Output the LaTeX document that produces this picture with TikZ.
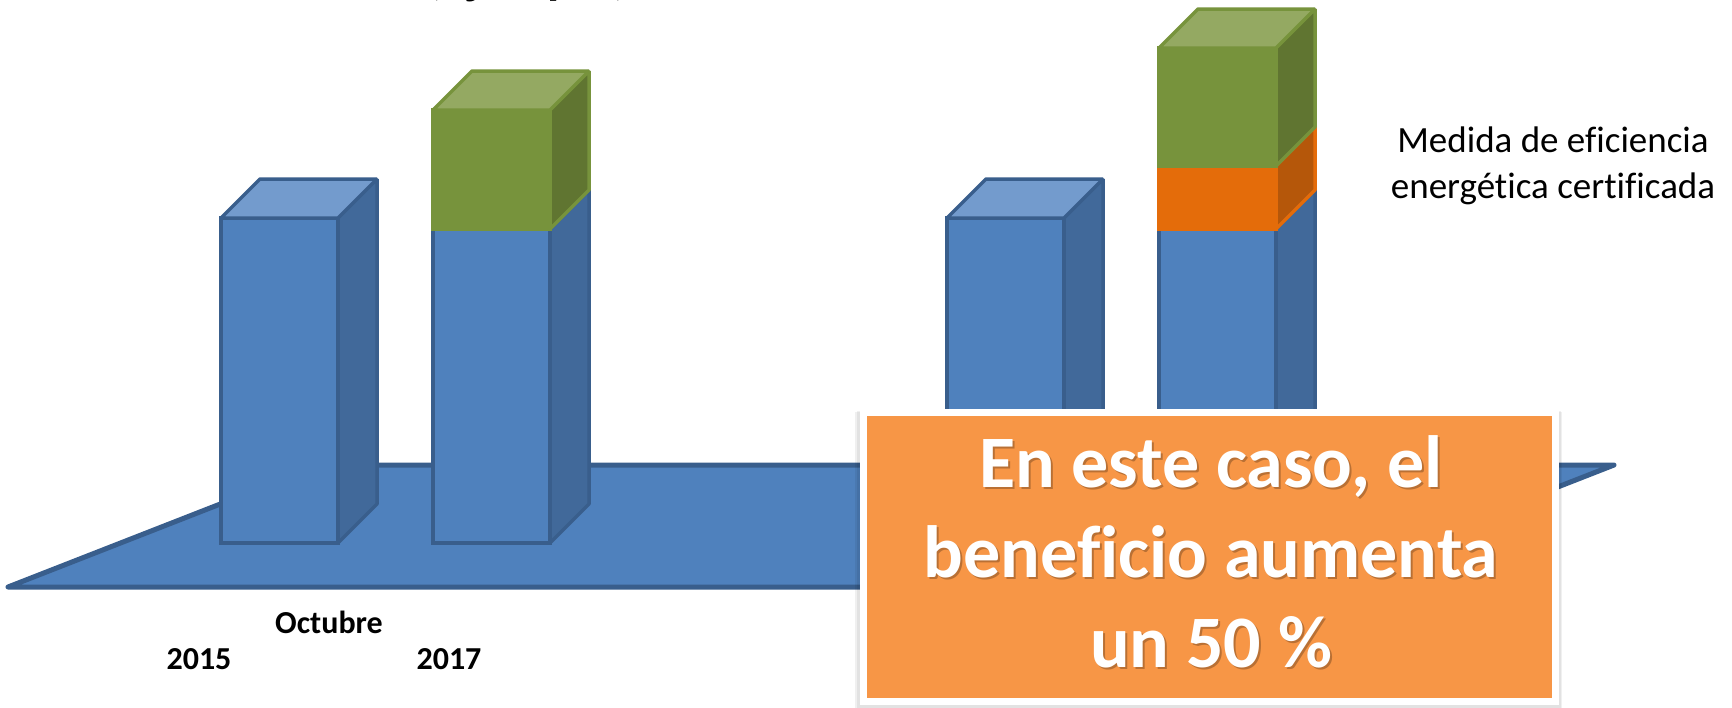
\documentclass[tikz,border=0pt]{standalone}
\usepackage{fontspec}
\setmainfont{Carlito}[Ligatures=NoCommon]
\definecolor{bfront}{HTML}{4F81BD}
\definecolor{bside}{HTML}{41699A}
\definecolor{btop}{HTML}{739BCD}
\definecolor{bedge}{HTML}{395E8C}
\definecolor{gfront}{HTML}{77933C}
\definecolor{gside}{HTML}{607531}
\definecolor{gtop}{HTML}{94A962}
\definecolor{gedge}{HTML}{77933C}
\definecolor{ofront}{HTML}{E46C0A}
\definecolor{oside}{HTML}{B5570A}
\definecolor{oedge}{HTML}{E46C0A}
\definecolor{boxorange}{HTML}{F79646}
% x, ytop, ybot, front, side, edge
\newcommand\barseg[6]{%
  \filldraw[fill=#5,draw=#6,line width=3.5pt,line join=bevel]
    (#1+117,#2) -- ++(39,-39) -- (#1+156,#3-39) -- (#1+117,#3) -- cycle;
  \filldraw[fill=#4,draw=#6,line width=3.5pt] (#1,#2) rectangle (#1+117,#3);
}
% x, ytop, topcolor, edge
\newcommand\bartopface[4]{%
  \filldraw[fill=#3,draw=#4,line width=3.5pt,line join=bevel]
    (#1,#2) -- ++(39,-39) -- ++(117,0) -- ++(-39,39) -- cycle;
}
\tikzset{
  axislabel/.style={font=\fontsize{32}{38}\selectfont\bfseries, inner sep=0pt},
  bigmsg/.style={align=center, font=\fontsize{74}{90}\selectfont\bfseries, inner sep=0pt},
}
\begin{document}
\begin{tikzpicture}[x=1pt,y=-1pt]
\useasboundingbox (0,0) rectangle (1732,707);
% cut title
\node (title) [anchor=base, font=\fontsize{50}{60}\selectfont\bfseries, inner sep=0pt] at (528,-7) {(ejemplo)};
% floor
\filldraw[fill=bfront,draw=bedge,line width=5pt,line join=round]
  (8,587) -- (320,465) -- (1614,465) -- (1302,587) -- cycle;
% bar 1
\barseg{221}{218}{543}{bfront}{bside}{bedge}
\bartopface{221}{218}{btop}{bedge}
% bar 2
\barseg{433}{229}{543}{bfront}{bside}{bedge}
\barseg{433}{110}{229}{gfront}{gside}{gedge}
\bartopface{433}{110}{gtop}{gedge}
% bar 3
\barseg{947}{218}{543}{bfront}{bside}{bedge}
\bartopface{947}{218}{btop}{bedge}
% bar 4
\barseg{1159}{229}{543}{bfront}{bside}{bedge}
\barseg{1159}{166}{229}{ofront}{oside}{oedge}
\barseg{1159}{48}{166}{gfront}{gside}{gedge}
\bartopface{1159}{48}{gtop}{gedge}
% labels
\node (oct) [axislabel] at (329,622) {Octubre};
\node (y2015) [axislabel] at (199,659) {2015};
\node (y2017) [axislabel] at (449,659) {2017};
\node (legend) [align=center, font=\fontsize{37}{46}\selectfont, inner sep=0pt] at (1553,166)
  {Medida de eficiencia\\energética certificada};
% message box
\fill[black, opacity=0.06] (855,412) rectangle (1562,710);
\fill[black, opacity=0.06] (857,411) rectangle (1561,708);
\node (frame) [fill=white, minimum width=699pt, minimum height=296pt, inner sep=0pt] at (1209.5,557) {};
\node (msg) [fill=boxorange, minimum width=685pt, minimum height=282pt, inner sep=0pt] at (1209.5,557) {};
\node (msgshadow) [bigmsg, text=black, opacity=0.25] at (1213,554)
  {En este caso, el\\beneficio aumenta\\un 50~\%};
\node (msgtext) [bigmsg, text=white] at (1211,552)
  {En este caso, el\\beneficio aumenta\\un 50~\%};
\end{tikzpicture}
\end{document}
